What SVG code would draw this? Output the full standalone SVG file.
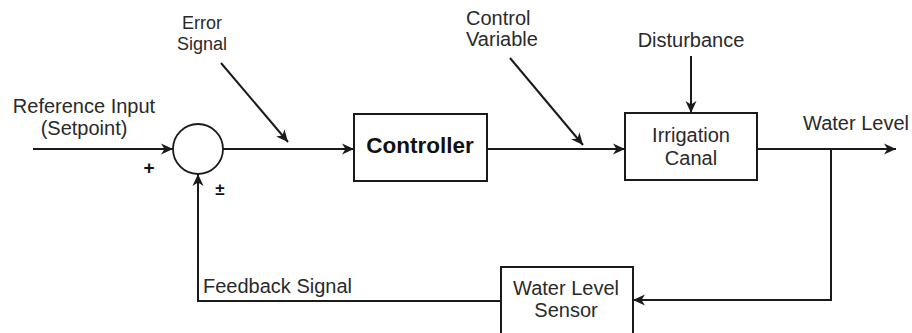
<svg xmlns="http://www.w3.org/2000/svg" width="912" height="333" viewBox="0 0 912 333">
<style>
  text { font-family: "Liberation Sans", Arial, sans-serif; fill: #2a2a2a; font-size: 20px; }
  .c { text-anchor: middle; }
  .box { fill: #ffffff; stroke: #1a1a1a; stroke-width: 2; }
  .ln { fill: none; stroke: #1a1a1a; stroke-width: 2; }
  .arr { marker-end: url(#ah); }
</style>
<defs>
  <marker id="ah" markerUnits="userSpaceOnUse" markerWidth="14" markerHeight="12" refX="12" refY="6" orient="auto">
    <path d="M0,0.5 L12,6 L0,11.5 L3.5,6 Z" fill="#1a1a1a"/>
  </marker>
</defs>
<rect width="912" height="333" fill="#ffffff"/>
<g id="connectors">
  <line class="ln arr" x1="33" y1="149" x2="173" y2="149"/>
  <line class="ln arr" x1="223" y1="149" x2="354" y2="149"/>
  <line class="ln arr" x1="487" y1="149" x2="625" y2="149"/>
  <line class="ln arr" x1="757" y1="149" x2="896" y2="149"/>
  <line class="ln arr" x1="691" y1="56" x2="691" y2="113"/>
  <polyline class="ln arr" points="831,149 831,300 633,300"/>
  <polyline class="ln arr" points="501,301 198,301 198,174"/>
  <line class="ln arr" x1="221" y1="63" x2="288" y2="142"/>
  <line class="ln arr" x1="510" y1="58" x2="583" y2="145"/>
</g>
<g id="summing-junction">
  <circle cx="198" cy="149" r="25" fill="#ffffff" stroke="#1a1a1a" stroke-width="1.8"/>
  <text x="149" y="174" class="c" style="font-size:19px;font-weight:bold;fill:#111">+</text>
  <text x="220" y="195" class="c" style="font-size:17px;font-weight:bold;fill:#111">±</text>
</g>
<g id="reference-input">
  <text x="84" y="113" class="c">Reference Input</text>
  <text x="84" y="135" class="c">(Setpoint)</text>
</g>
<g id="error-signal">
  <text x="202" y="29" class="c" style="font-size:18px">Error</text>
  <text x="202" y="50" class="c" style="font-size:18px">Signal</text>
</g>
<g id="controller">
  <rect class="box" x="354" y="114" width="133" height="67"/>
  <text x="420" y="153" class="c" style="font-size:22.5px;font-weight:bold;fill:#111">Controller</text>
</g>
<g id="control-variable">
  <text x="466" y="25">Control</text>
  <text x="466" y="46">Variable</text>
</g>
<g id="disturbance">
  <text x="691" y="47" class="c">Disturbance</text>
</g>
<g id="irrigation-canal">
  <rect class="box" x="625" y="113" width="132" height="67"/>
  <text x="691" y="142" class="c">Irrigation</text>
  <text x="691" y="165" class="c">Canal</text>
</g>
<g id="water-level">
  <text x="856" y="130" class="c">Water Level</text>
</g>
<g id="water-level-sensor">
  <rect class="box" x="501" y="267" width="132" height="70"/>
  <text x="566" y="295" class="c">Water Level</text>
  <text x="566" y="317" class="c">Sensor</text>
</g>
<g id="feedback-signal">
  <text x="203" y="293">Feedback Signal</text>
</g>
</svg>
